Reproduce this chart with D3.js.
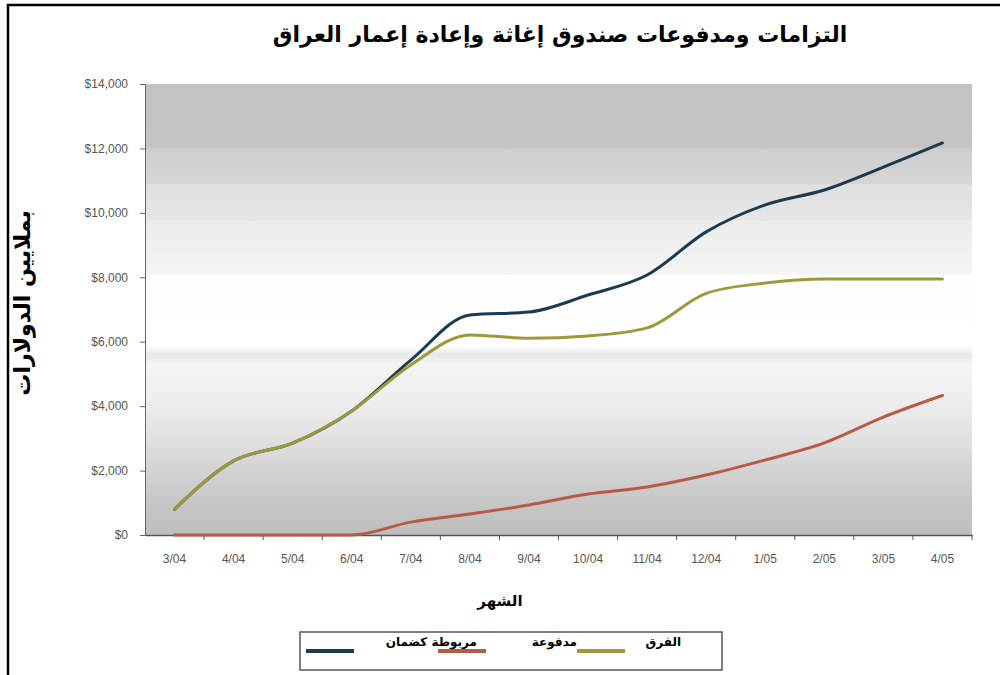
<!DOCTYPE html>
<html lang="ar">
<head>
    <meta charset="UTF-8">
    <title>التزامات ومدفوعات صندوق إغاثة وإعادة إعمار العراق</title>
    <script src="https://d3js.org/d3.v7.min.js"></script>
    <style>
        body { margin: 0; background: #fff; }
        .tick text { font-family: "Liberation Sans", Arial, sans-serif; font-size: 12px; fill: #555; }
        .ar { font-family: "DejaVu Sans", sans-serif; font-weight: bold; fill: #000; }
    </style>
</head>
<body>
    <div id="chart"></div>

    <script>
        // data (millions of dollars)
        const months = ["3/04", "4/04", "5/04", "6/04", "7/04", "8/04", "9/04", "10/04",
                        "11/04", "12/04", "1/05", "2/05", "3/05", "4/05"];
        const committed = [800, 2300, 2850, 3850, 5430, 6830, 6920, 7450, 8070, 9410, 10250, 10710, 11420, 12170];
        const paid = [0, 0, 0, 0, 400, 650, 930, 1270, 1490, 1860, 2330, 2860, 3660, 4330];
        const difference = [800, 2300, 2850, 3850, 5280, 6210, 6110, 6180, 6430, 7500, 7820, 7950, 7950, 7950];
        const yTicks = [0, 2000, 4000, 6000, 8000, 10000, 12000, 14000];

        const seriesNames = ["مربوطة كضمان", "مدفوعة", "الفرق"];
        const seriesColors = ["#1c3a50", "#b85a45", "#9c9a3c"];

        const W = 1000, H = 675;
        const margin = { top: 84, right: 28, bottom: 140, left: 145 };
        const width = W - margin.left - margin.right;
        const height = H - margin.top - margin.bottom;

        const root = d3.select("#chart").append("svg")
            .attr("width", W)
            .attr("height", H);

        // outer frame
        root.append("rect")
            .attr("x", 8).attr("y", 5)
            .attr("width", W + 20).attr("height", H + 20)
            .attr("fill", "none")
            .attr("stroke", "#000")
            .attr("stroke-width", 2.5);

        const svg = root.append("g")
            .attr("transform", `translate(${margin.left},${margin.top})`);

        const x = d3.scaleBand().domain(months).range([0, width]);
        const y = d3.scaleLinear().domain([0, 14000]).range([height, 0]);

        // banded gray background
        const grad = root.append("defs").append("linearGradient")
            .attr("id", "bg").attr("x1", 0).attr("y1", 0).attr("x2", 0).attr("y2", 1);
        const stops = [
            [0, "#c2c2c2"], [0.14, "#c4c4c4"], [0.145, "#cecece"], [0.22, "#d6d6d6"],
            [0.225, "#e0e0e0"], [0.3, "#e6e6e6"], [0.305, "#ececec"], [0.42, "#f4f4f4"],
            [0.425, "#fdfdfd"], [0.58, "#ffffff"], [0.6, "#e8e8e8"], [0.62, "#f4f4f4"],
            [0.7, "#eeeeee"], [0.78, "#e2e2e2"], [0.86, "#d2d2d2"], [0.93, "#c6c6c6"], [1, "#bebebe"]
        ];
        stops.forEach(s => grad.append("stop").attr("offset", s[0]).attr("stop-color", s[1]));

        svg.append("rect")
            .attr("width", width).attr("height", height)
            .attr("fill", "url(#bg)");

        // axes
        const yAxis = svg.append("g")
            .call(d3.axisLeft(y).tickValues(yTicks).tickSize(5).tickPadding(12)
                .tickFormat(d => "$" + d3.format(",")(d)));
        yAxis.select(".domain").attr("stroke", "#666");
        yAxis.selectAll(".tick line").attr("stroke", "#666");

        const xAxis = svg.append("g")
            .attr("transform", `translate(0,${height})`)
            .call(d3.axisBottom(x).tickSize(0).tickPadding(19));
        xAxis.select(".domain").attr("stroke", "#555").attr("stroke-width", 1.5);

        // ticks at band boundaries
        svg.append("g").selectAll("line")
            .data(months)
            .join("line")
            .attr("x1", d => x(d) + x.bandwidth())
            .attr("x2", d => x(d) + x.bandwidth())
            .attr("y1", height).attr("y2", height + 5)
            .attr("stroke", "#555");

        // lines
        const line = d3.line()
            .x((d, i) => x(months[i]) + x.bandwidth() / 2)
            .y(d => y(d))
            .curve(d3.curveMonotoneX);

        const drawOrder = [[paid, 1], [committed, 0], [difference, 2]];
        drawOrder.forEach(([vals, k]) => {
            svg.append("path")
                .datum(vals)
                .attr("fill", "none")
                .attr("stroke", seriesColors[k])
                .attr("stroke-width", 3)
                .attr("stroke-linejoin", "round")
                .attr("stroke-linecap", "round")
                .attr("d", line);
        });

        // title
        root.append("text")
            .attr("class", "ar")
            .attr("x", 560).attr("y", 42)
            .attr("text-anchor", "middle")
            .style("font-size", "22px")
            .text("التزامات ومدفوعات صندوق إغاثة وإعادة إعمار العراق");

        // axis titles
        root.append("text")
            .attr("class", "ar")
            .attr("x", 500).attr("y", 606)
            .attr("text-anchor", "middle")
            .style("font-size", "15px")
            .text("الشهر");

        root.append("text")
            .attr("class", "ar")
            .attr("transform", "translate(30,303) rotate(-90)")
            .attr("text-anchor", "middle")
            .style("font-size", "22px")
            .text("بملايين الدولارات");

        // legend
        const legend = root.append("g");
        legend.append("rect")
            .attr("x", 300).attr("y", 632)
            .attr("width", 422).attr("height", 38)
            .attr("fill", "#fff")
            .attr("stroke", "#555")
            .attr("stroke-width", 1.5);

        const legendItems = [
            { k: 0, lx: 306, tx: 477 },
            { k: 1, lx: 438, tx: 577 },
            { k: 2, lx: 577, tx: 681 }
        ];
        legendItems.forEach(it => {
            legend.append("line")
                .attr("x1", it.lx).attr("x2", it.lx + 48)
                .attr("y1", 651).attr("y2", 651)
                .attr("stroke", seriesColors[it.k])
                .attr("stroke-width", 4);
            legend.append("text")
                .attr("class", "ar")
                .attr("x", it.tx).attr("y", 646)
                .attr("text-anchor", "end")
                .style("font-size", "12px")
                .text(seriesNames[it.k]);
        });
    </script>
</body>
</html>
